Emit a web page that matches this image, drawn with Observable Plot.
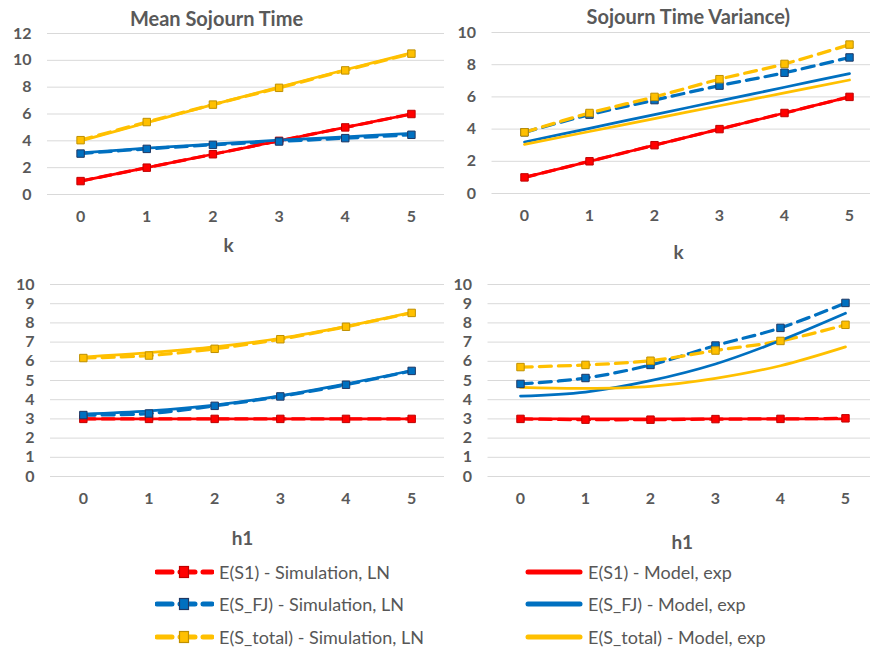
<!DOCTYPE html>
<html>
<head>
<meta charset="utf-8">
<script src="https://cdn.jsdelivr.net/npm/d3@7"></script>
<script src="https://cdn.jsdelivr.net/npm/@observablehq/plot@0.6"></script>
<style>
  body { margin: 0; background: #fff; }
  #wrap { position: relative; width: 870px; height: 649px; overflow: hidden; background: #fff; font-family: Lato, sans-serif; }
  .panel { position: absolute; }
  .legend { position: absolute; font-family: Lato, sans-serif; font-size: 18px; color: #575757; white-space: nowrap; }
  .legend .item { position: absolute; height: 20px; display: flex; align-items: center; }
  .legend svg { display: block; margin-right: 5px; }
</style>
</head>
<body>
<div id="wrap"></div>
<script>
// ---------- data ----------
const xTicks = [0, 1, 2, 3, 4, 5];

// Mean Sojourn Time vs k
const meanK_S1_sim     = [1, 2, 3, 4, 5, 6];
const meanK_S1_model   = [1, 2, 3, 4, 5, 6];
const meanK_SFJ_sim    = [3.05, 3.4, 3.7, 3.95, 4.2, 4.45];
const meanK_SFJ_model  = [3.1, 3.45, 3.75, 4.05, 4.3, 4.55];
const meanK_Stot_sim   = [4.05, 5.4, 6.7, 7.95, 9.25, 10.5];
const meanK_Stot_model = [4.0, 5.35, 6.7, 8.0, 9.3, 10.55];

// Sojourn Time Variance vs k
const varK_S1_sim     = [1, 2, 3, 4, 5, 6];
const varK_S1_model   = [1, 2, 3, 4, 5, 6];
const varK_SFJ_sim    = [3.8, 4.9, 5.8, 6.7, 7.5, 8.45];
const varK_SFJ_model  = [3.2, 4.05, 4.9, 5.75, 6.6, 7.45];
const varK_Stot_sim   = [3.8, 5.0, 6.0, 7.1, 8.05, 9.25];
const varK_Stot_model = [3.05, 3.85, 4.65, 5.45, 6.25, 7.05];

// Mean Sojourn Time vs h1
const meanH_S1_sim     = [3, 3, 3, 3, 3, 3];
const meanH_S1_model   = [3, 3, 3, 3, 3, 3];
const meanH_SFJ_sim    = [3.2, 3.28, 3.68, 4.17, 4.78, 5.5];
const meanH_SFJ_model  = [3.25, 3.42, 3.72, 4.2, 4.82, 5.52];
const meanH_Stot_sim   = [6.17, 6.3, 6.65, 7.15, 7.8, 8.52];
const meanH_Stot_model = [6.22, 6.45, 6.75, 7.2, 7.82, 8.55];

// Sojourn Time Variance vs h1
const varH_S1_sim     = [3.0, 2.96, 2.96, 2.99, 3.0, 3.03];
const varH_S1_model   = [3, 3, 3, 3, 3, 3];
const varH_SFJ_sim    = [4.82, 5.13, 5.81, 6.82, 7.74, 9.04];
const varH_SFJ_model  = [4.19, 4.4, 4.99, 5.86, 7.08, 8.5];
const varH_Stot_sim   = [5.7, 5.81, 6.03, 6.56, 7.06, 7.9];
const varH_Stot_model = [4.64, 4.59, 4.7, 5.11, 5.77, 6.75];

const titles = ["Mean Sojourn Time", "Sojourn Time Variance)"];
const xLabels = ["k", "k", "h1", "h1"];
const yTicksTopLeft = [0, 2, 4, 6, 8, 10, 12];
const yTicksTopRight = [0, 2, 4, 6, 8, 10];
const yTicksBottom = [0, 1, 2, 3, 4, 5, 6, 7, 8, 9, 10];

const legendLabels = [
  "E(S1) - Simulation, LN", "E(S1) - Model, exp",
  "E(S_FJ) - Simulation, LN", "E(S_FJ) - Model, exp",
  "E(S_total) - Simulation, LN", "E(S_total) - Model, exp"
];

// ---------- styles ----------
const COL = {S1: "#FF0000", SFJ: "#0070C0", Stot: "#FFC000"};
const EDGE = {S1: "#C00000", SFJ: "#1F3864", Stot: "#BF9000"};
const TXT = "#595959";

function rows(arr) { return arr.map((v, i) => ({x: xTicks[i], y: v})); }

function makePanel(cfg) {
  const keys = ["S1", "SFJ", "Stot"];
  const marks = [Plot.gridY(cfg.yTicks, {stroke: "#d9d9d9", strokeOpacity: 1, strokeWidth: 1})];
  keys.forEach(k => marks.push(Plot.line(rows(cfg.sim[k]), {x: "x", y: "y", stroke: COL[k], strokeWidth: 3.25, strokeDasharray: "12,7", curve: "catmull-rom"})));
  keys.forEach(k => marks.push(Plot.line(rows(cfg.model[k]), {x: "x", y: "y", stroke: COL[k], strokeWidth: 2.75, curve: "catmull-rom"})));
  keys.forEach(k => marks.push(Plot.dot(rows(cfg.sim[k]), {x: "x", y: "y", symbol: "square", r: 4.2, fill: COL[k], stroke: EDGE[k], strokeWidth: 1})));
  if (cfg.title) marks.push(Plot.text([cfg.title], {text: d => d, frameAnchor: "top", lineAnchor: "middle", dx: cfg.titleDx, dy: cfg.titleDy, fontSize: 20, fontWeight: "bold", fill: TXT}));
  marks.push(Plot.text([cfg.xLabel], {text: d => d, frameAnchor: "bottom", lineAnchor: "middle", dx: cfg.labelDx, dy: cfg.labelDy, fontSize: 19, fontWeight: "bold", fill: TXT}));
  const svg = Plot.plot({
    width: cfg.width, height: cfg.height,
    marginLeft: cfg.ml, marginRight: cfg.mr, marginTop: cfg.mt, marginBottom: cfg.mb,
    style: {fontFamily: "Lato, sans-serif", fontSize: "16px", fontWeight: "bold", color: TXT, background: "transparent", overflow: "visible"},
    x: {type: "linear", domain: cfg.xDomain, ticks: xTicks, tickSize: 0, tickPadding: 16, label: null, tickFormat: d => String(d)},
    y: {domain: cfg.yDomain, ticks: cfg.yTicks, tickSize: 0, tickPadding: 16, label: null, tickFormat: d => String(d)},
    marks
  });
  svg.classList.add("panel");
  svg.style.left = cfg.left + "px";
  svg.style.top = cfg.top + "px";
  document.getElementById("wrap").appendChild(svg);
}

makePanel({
  left: 0, top: 0, width: 445, height: 262, ml: 47, mr: 1, mt: 33, mb: 68,
  xDomain: [-0.5, 5.5], yDomain: [0, 12], yTicks: yTicksTopLeft,
  title: titles[0], titleDx: -29.5, titleDy: -14, xLabel: xLabels[0], labelDx: -17.5, labelDy: 51,
  sim: {S1: meanK_S1_sim, SFJ: meanK_SFJ_sim, Stot: meanK_Stot_sim},
  model: {S1: meanK_S1_model, SFJ: meanK_SFJ_model, Stot: meanK_Stot_model}
});
makePanel({
  left: 440, top: 0, width: 430, height: 262, ml: 51.5, mr: 0, mt: 32, mb: 69,
  xDomain: [-0.5, 5.323], yDomain: [0, 10], yTicks: yTicksTopRight,
  title: titles[1], titleDx: 7, titleDy: -15, xLabel: xLabels[1], labelDx: -2.75, labelDy: 59,
  sim: {S1: varK_S1_sim, SFJ: varK_SFJ_sim, Stot: varK_Stot_sim},
  model: {S1: varK_S1_model, SFJ: varK_SFJ_model, Stot: varK_Stot_model}
});
makePanel({
  left: 0, top: 262, width: 445, height: 292, ml: 50, mr: 1, mt: 22, mb: 78,
  xDomain: [-0.5, 5.5], yDomain: [0, 10], yTicks: yTicksBottom,
  xLabel: xLabels[2], labelDx: -5, labelDy: 62,
  sim: {S1: meanH_S1_sim, SFJ: meanH_SFJ_sim, Stot: meanH_Stot_sim},
  model: {S1: meanH_S1_model, SFJ: meanH_SFJ_model, Stot: meanH_Stot_model}
});
makePanel({
  left: 440, top: 262, width: 430, height: 292, ml: 47.5, mr: 0, mt: 22, mb: 78,
  xDomain: [-0.5, 5.385], yDomain: [0, 10], yTicks: yTicksBottom,
  xLabel: xLabels[3], labelDx: 3, labelDy: 66,
  sim: {S1: varH_S1_sim, SFJ: varH_SFJ_sim, Stot: varH_Stot_sim},
  model: {S1: varH_S1_model, SFJ: varH_SFJ_model, Stot: varH_Stot_model}
});

// ---------- legend ----------
const legend = document.createElement("div");
legend.className = "legend";
legend.style.left = "0px"; legend.style.top = "0px";
document.getElementById("wrap").appendChild(legend);
const rowY = [572, 604, 637];
const keys = ["S1", "SFJ", "Stot"];
keys.forEach((k, i) => {
  const a = document.createElement("div");
  a.className = "item";
  a.style.left = "155px"; a.style.top = (rowY[i] - 10) + "px";
  a.innerHTML = `<svg width="59" height="20"><line x1="2" y1="10" x2="57" y2="10" stroke="${COL[k]}" stroke-width="5" stroke-linecap="round" stroke-dasharray="15,8"/><rect x="24.5" y="4.5" width="9" height="11" fill="${COL[k]}" stroke="${EDGE[k]}" stroke-width="1.2"/></svg><span>${legendLabels[i * 2]}</span>`;
  legend.appendChild(a);
  const b = document.createElement("div");
  b.className = "item";
  b.style.left = "525px"; b.style.top = (rowY[i] - 10) + "px";
  b.innerHTML = `<svg width="58" height="20"><line x1="3" y1="10" x2="55" y2="10" stroke="${COL[k]}" stroke-width="5" stroke-linecap="round"/></svg><span>${legendLabels[i * 2 + 1]}</span>`;
  legend.appendChild(b);
});
</script>
</body>
</html>
